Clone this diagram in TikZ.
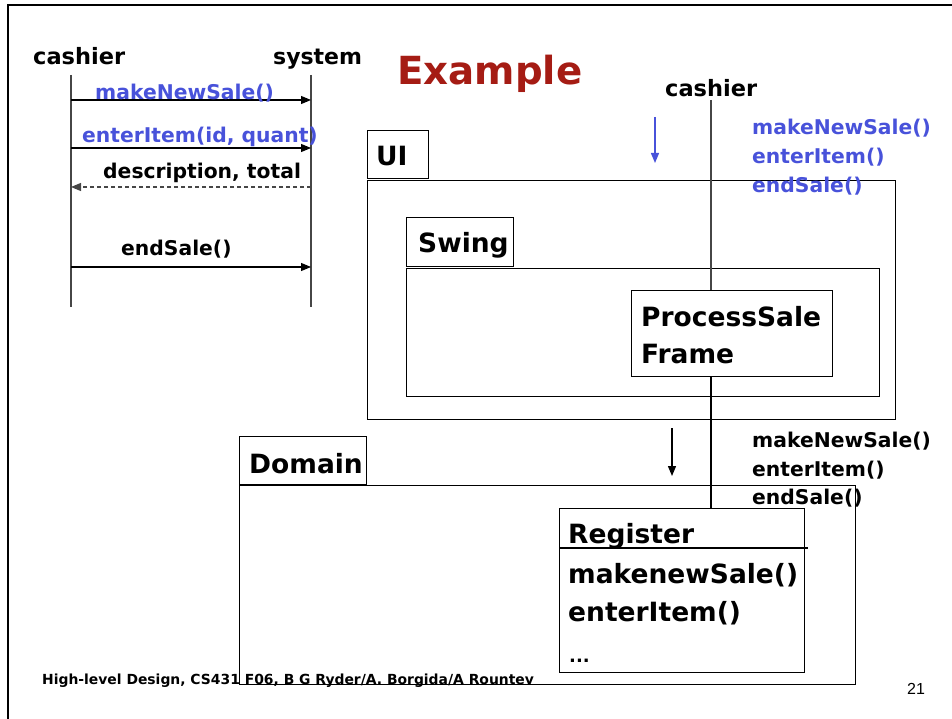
\documentclass[tikz,border=0pt]{standalone}
\usepackage{fontspec}
\setmainfont{DejaVu Sans}
\newfontfamily\numfont{Liberation Sans}
\usetikzlibrary{arrows.meta}
\definecolor{msgblue}{RGB}{72,82,218}
\definecolor{titlered}{RGB}{165,28,20}
\definecolor{lifegray}{RGB}{70,70,70}
\tikzset{
  lbl/.style={anchor=base west, inner sep=0pt, font=\bfseries\fontsize{20.3}{24}\selectfont},
  big/.style={anchor=base west, inner sep=0pt, font=\bfseries\fontsize{26.5}{32}\selectfont},
  box/.style={draw=black, line width=1.1pt, inner sep=0pt, anchor=north west},
  msg/.style={draw=black, line width=1.1pt, -{Triangle[length=10pt,width=8pt]}},
  reply/.style={msg, dash pattern=on 4.5pt off 2.5pt, draw=lifegray},
  life/.style={draw=lifegray, line width=1.3pt},
  flow/.style={line width=1.3pt, -{Triangle[length=10pt,width=8pt]}},
}
\begin{document}
\begin{tikzpicture}[x=1pt,y=-1pt]
\useasboundingbox (0,0) rectangle (952,719);
% slide frame (top and left edges)
\draw[line width=1.2pt] (952,5) -- (8,5) -- (8,719);

% ---- system sequence diagram ----
\node[lbl, font=\bfseries\fontsize{22.5}{26}\selectfont] (cashierL) at (33,65) {cashier};
\node[lbl, font=\bfseries\fontsize{22}{26}\selectfont] (systemL) at (273,65) {system};
\coordinate (c0) at (71,75);  \coordinate (c1) at (71,307);
\coordinate (s0) at (311,75); \coordinate (s1) at (311,307);
\draw[life] (c0) -- (c1);
\draw[life] (s0) -- (s1);
\coordinate (m1a) at (71,100);  \coordinate (m1b) at (311,100);
\coordinate (m2a) at (71,148);  \coordinate (m2b) at (311,148);
\coordinate (m3a) at (311,187); \coordinate (m3b) at (71,187);
\coordinate (m4a) at (71,267);  \coordinate (m4b) at (311,267);
\draw[msg] (m1a) -- (m1b);
\draw[msg] (m2a) -- (m2b);
\draw[reply] (m3a) -- (m3b);
\draw[msg] (m4a) -- (m4b);
\node[lbl, text=msgblue] (t1) at (95,100) {makeNewSale()};
\node[lbl, text=msgblue] (t2) at (82,143) {enterItem(id, quant)};
\node[lbl] (t3) at (103,179) {description, total};
\node[lbl] (t4) at (121,255) {endSale()};

% ---- title ----
\node[anchor=base west, inner sep=0pt, text=titlered,
      font=\bfseries\fontsize{38.7}{44}\selectfont] (title) at (397,85) {Example};

% ---- layered architecture ----
\node[lbl, font=\bfseries\fontsize{22.5}{26}\selectfont] (cashierR) at (665,97) {cashier};
\coordinate (actor) at (711,100);

\node[box, minimum width=61pt, minimum height=48pt] (uitab) at (367,130) {};
\node[big] at (376,166) {UI};
\node[box, minimum width=528pt, minimum height=239pt] (ui) at (367,180) {};

\node[box, minimum width=107pt, minimum height=49pt] (swingtab) at (406,217) {};
\node[big] at (418,252) {Swing};
\node[box, minimum width=473pt, minimum height=128pt] (swing) at (406,268) {};

\node[box, minimum width=201pt, minimum height=86pt] (psf) at (631,290) {};
\node[big] at (641,326) {ProcessSale};
\node[big] at (641,363) {Frame};

\node[box, minimum width=127pt, minimum height=48pt] (domtab) at (239,436) {};
\node[big] at (249,473) {Domain};
\node[box, minimum width=616pt, minimum height=199pt] (domain) at (239,485) {};

\node[box, fill=white, minimum width=245pt, minimum height=164pt] (reg) at (559,508) {};
\draw[line width=1.1pt] (559,548) -- (808,548);
\node[big] at (568,543) {Register};
\node[big] at (568,583) {makenewSale()};
\node[big] at (568,621) {enterItem()};
\node[big, font=\bfseries\fontsize{18}{22}\selectfont] at (569,662) {...};

% actor -> UI frame -> domain object
\draw[line width=1.3pt, lifegray] (actor) -- (actor |- psf.north);
\draw[line width=1.3pt] (actor |- psf.south) -- (actor |- reg.north);

% calls crossing into the UI layer
\coordinate (ua0) at (655,117); \coordinate (ua1) at (655,163);
\draw[flow, msgblue] (ua0) -- (ua1);
\node[lbl, text=msgblue] at (752,135) {makeNewSale()};
\node[lbl, text=msgblue] at (752,164) {enterItem()};
\node[lbl, text=msgblue] at (752,193) {endSale()};

% calls crossing into the domain layer
\coordinate (da0) at (672,428); \coordinate (da1) at (672,476);
\draw[flow, black] (da0) -- (da1);
\node[lbl] at (752,447) {makeNewSale()};
\node[lbl] at (752,476) {enterItem()};
\node[lbl] at (752,504) {endSale()};

% ---- footer ----
\node[anchor=base west, inner sep=0pt, font=\bfseries\fontsize{13.9}{16}\selectfont] (foot) at (42,684)
  {High-level Design, CS431 F06, B G Ryder/A. Borgida/A Rountev};
\node[anchor=base west, inner sep=0pt, font=\numfont\fontsize{16}{18}\selectfont] (pg) at (907,694) {21};
\end{tikzpicture}
\end{document}
